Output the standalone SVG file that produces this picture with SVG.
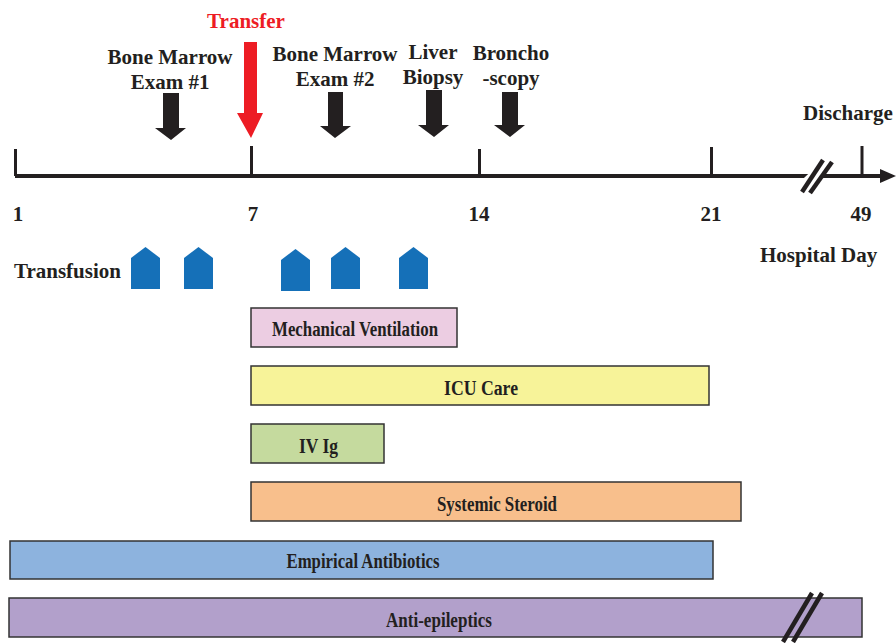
<svg xmlns="http://www.w3.org/2000/svg" width="896" height="643" viewBox="0 0 896 643">
<style>
.t{font-family:"Liberation Serif","Times New Roman",serif;font-weight:bold;fill:#231f20}
.h{font-size:21px;text-anchor:middle}
.n{font-size:21px;text-anchor:middle}
.b{font-size:20px;text-anchor:middle}
.bar{stroke:#333;stroke-width:1.5}
.ax{stroke:#231f20;stroke-width:4;fill:none}
.tk{stroke:#231f20;stroke-width:3;fill:none}
.brk{stroke:#231f20;stroke-width:4.5}
.arr{fill:#231f20}
.tf{fill:#1570b8}
</style>
<rect width="896" height="643" fill="#fff"/>
<g id="connectors">
<line class="ax" x1="15" y1="176" x2="884" y2="176"/>
<polygon points="880,169 896,176 880,183" fill="#231f20"/>
<line class="tk" x1="15.5" y1="149" x2="15.5" y2="176"/>
<line class="tk" x1="251.5" y1="146" x2="251.5" y2="176"/>
<line class="tk" x1="479.5" y1="149" x2="479.5" y2="176"/>
<line class="tk" x1="711.5" y1="147" x2="711.5" y2="176"/>
<line class="tk" x1="862" y1="146" x2="862" y2="176"/>
<line x1="806" y1="183" x2="822" y2="168" stroke="#fff" stroke-width="10"/>
<line class="brk" x1="802" y1="192" x2="823" y2="160"/>
<line class="brk" x1="810" y1="193" x2="832" y2="162"/>
</g>
<g id="axis-labels">
<text class="t n" x="18" y="221">1</text>
<text class="t n" x="253" y="221">7</text>
<text class="t n" x="479" y="221">14</text>
<text class="t n" x="711" y="221">21</text>
<text class="t n" x="861" y="221">49</text>
<text class="t" x="760" y="262" font-size="21">Hospital Day</text>
<text class="t" x="803" y="120" font-size="21">Discharge</text>
</g>
<g id="transfer">
<text class="t h" x="246" y="28" style="fill:#ed1c24">Transfer</text>
<polygon points="244,42 257,42 257,113 263,113 251,138 237,113 244,113" fill="#ed1c24"/>
</g>
<g id="bme1">
<text class="t h" x="170" y="64">Bone Marrow</text>
<text class="t h" x="170" y="89">Exam #1</text>
<polygon class="arr" points="163,93 179,93 179,128 186,128 171,140 155,128 163,128"/>
</g>
<g id="bme2">
<text class="t h" x="335" y="61">Bone Marrow</text>
<text class="t h" x="335" y="86">Exam #2</text>
<polygon class="arr" points="328,92 343,92 343,126 351,126 335,138 320,126 328,126"/>
</g>
<g id="liver">
<text class="t h" x="433" y="59">Liver</text>
<text class="t h" x="433" y="84">Biopsy</text>
<polygon class="arr" points="426,90 442,90 442,125 449,125 434,137 418,125 426,125"/>
</g>
<g id="broncho">
<text class="t h" x="511" y="60">Broncho</text>
<text class="t h" x="511" y="85">-scopy</text>
<polygon class="arr" points="502,92 518,92 518,125 525,125 510,137 494,125 502,125"/>
</g>
<g id="transfusion">
<text class="t" x="14" y="278" font-size="21">Transfusion</text>
<polygon class="tf" points="131,258 145.5,247 160,258 160,289 131,289"/>
<polygon class="tf" points="184,258 198.5,247 213,258 213,289 184,289"/>
<polygon class="tf" points="281,260 295.5,249 310,260 310,291 281,291"/>
<polygon class="tf" points="331,258 345.5,247 360,258 360,289 331,289"/>
<polygon class="tf" points="399,258 413.5,247 428,258 428,289 399,289"/>
</g>
<g id="mv">
<rect class="bar" x="251" y="308" width="206" height="39" fill="#eccde2"/>
<text class="t b" x="355" y="336" textLength="166" lengthAdjust="spacingAndGlyphs">Mechanical Ventilation</text>
</g>
<g id="icu">
<rect class="bar" x="251" y="366" width="458" height="39" fill="#f7f399"/>
<text class="t b" x="481" y="395" textLength="74" lengthAdjust="spacingAndGlyphs">ICU Care</text>
</g>
<g id="ivig">
<rect class="bar" x="251" y="424" width="133" height="39" fill="#c5da9e"/>
<text class="t b" x="318.5" y="453" textLength="39" lengthAdjust="spacingAndGlyphs">IV Ig</text>
</g>
<g id="steroid">
<rect class="bar" x="251" y="482" width="490" height="39" fill="#f8bf8c"/>
<text class="t b" x="497" y="511" textLength="120" lengthAdjust="spacingAndGlyphs">Systemic Steroid</text>
</g>
<g id="antibiotics">
<rect class="bar" x="10" y="541" width="703" height="38" fill="#8db3de"/>
<text class="t b" x="363" y="568" textLength="153" lengthAdjust="spacingAndGlyphs">Empirical Antibiotics</text>
</g>
<g id="antiepileptics">
<rect class="bar" x="9" y="598" width="853" height="39" fill="#b2a0cb"/>
<text class="t b" x="439" y="627" textLength="106" lengthAdjust="spacingAndGlyphs">Anti-epileptics</text>
<line x1="793" y1="628" x2="812" y2="600" stroke="#b2a0cb" stroke-width="6"/>
<line class="brk" x1="783" y1="642" x2="812" y2="593"/>
<line class="brk" x1="793" y1="642" x2="822" y2="593"/>
</g>
</svg>
